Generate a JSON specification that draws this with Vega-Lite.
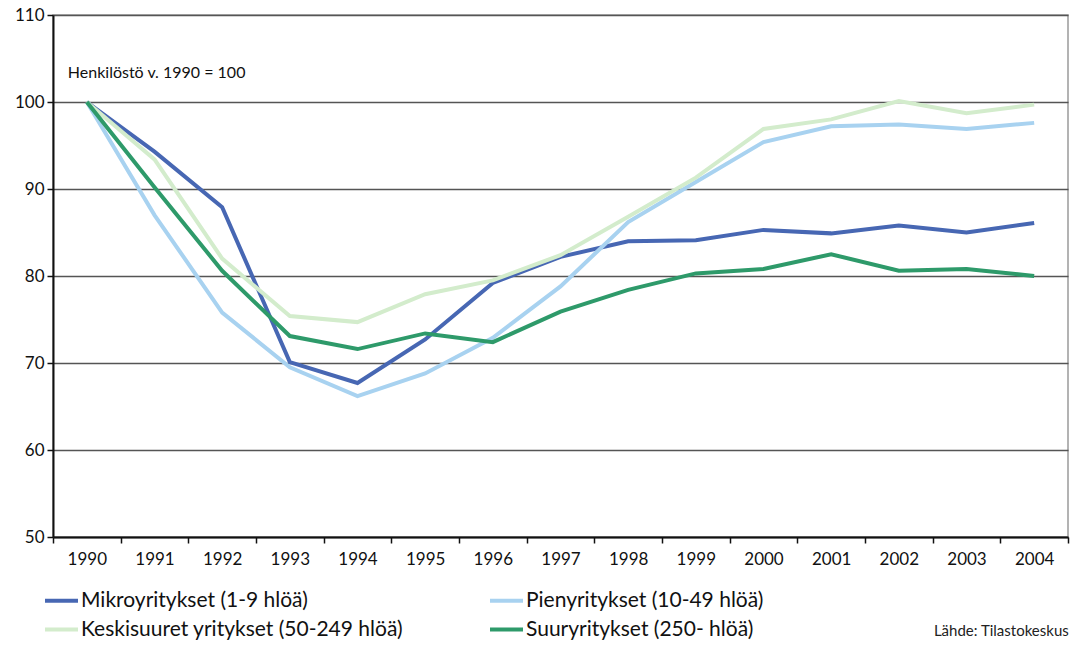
{
  "$schema": "https://vega.github.io/schema/vega-lite/v6.json",
  "autosize": "none",
  "padding": {"left": 53, "top": 15, "right": 10, "bottom": 109},
  "width": 1015,
  "height": 522,
  "background": "white",
  "config": {"font": "Lato", "view": {"stroke": "#9a9a9a", "strokeWidth": 1.5}},
  "title": {"text": "Lähde: Tilastokeskus", "orient": "bottom", "anchor": "end", "fontSize": 15, "fontWeight": "normal", "color": "#222", "offset": -16},
  "datasets": {
    "series": [
      {"year": "1990", "series": "Mikroyritykset (1-9 hlöä)", "value": 100},
      {"year": "1991", "series": "Mikroyritykset (1-9 hlöä)", "value": 94.3},
      {"year": "1992", "series": "Mikroyritykset (1-9 hlöä)", "value": 87.9},
      {"year": "1993", "series": "Mikroyritykset (1-9 hlöä)", "value": 70.1},
      {"year": "1994", "series": "Mikroyritykset (1-9 hlöä)", "value": 67.7},
      {"year": "1995", "series": "Mikroyritykset (1-9 hlöä)", "value": 72.7},
      {"year": "1996", "series": "Mikroyritykset (1-9 hlöä)", "value": 79.2},
      {"year": "1997", "series": "Mikroyritykset (1-9 hlöä)", "value": 82.2},
      {"year": "1998", "series": "Mikroyritykset (1-9 hlöä)", "value": 84.0},
      {"year": "1999", "series": "Mikroyritykset (1-9 hlöä)", "value": 84.1},
      {"year": "2000", "series": "Mikroyritykset (1-9 hlöä)", "value": 85.3},
      {"year": "2001", "series": "Mikroyritykset (1-9 hlöä)", "value": 84.9},
      {"year": "2002", "series": "Mikroyritykset (1-9 hlöä)", "value": 85.8},
      {"year": "2003", "series": "Mikroyritykset (1-9 hlöä)", "value": 85.0},
      {"year": "2004", "series": "Mikroyritykset (1-9 hlöä)", "value": 86.1},
      {"year": "1990", "series": "Pienyritykset (10-49 hlöä)", "value": 100},
      {"year": "1991", "series": "Pienyritykset (10-49 hlöä)", "value": 87.0},
      {"year": "1992", "series": "Pienyritykset (10-49 hlöä)", "value": 75.8},
      {"year": "1993", "series": "Pienyritykset (10-49 hlöä)", "value": 69.5},
      {"year": "1994", "series": "Pienyritykset (10-49 hlöä)", "value": 66.2},
      {"year": "1995", "series": "Pienyritykset (10-49 hlöä)", "value": 68.8},
      {"year": "1996", "series": "Pienyritykset (10-49 hlöä)", "value": 72.9},
      {"year": "1997", "series": "Pienyritykset (10-49 hlöä)", "value": 78.8},
      {"year": "1998", "series": "Pienyritykset (10-49 hlöä)", "value": 86.2},
      {"year": "1999", "series": "Pienyritykset (10-49 hlöä)", "value": 90.8},
      {"year": "2000", "series": "Pienyritykset (10-49 hlöä)", "value": 95.4},
      {"year": "2001", "series": "Pienyritykset (10-49 hlöä)", "value": 97.2},
      {"year": "2002", "series": "Pienyritykset (10-49 hlöä)", "value": 97.4},
      {"year": "2003", "series": "Pienyritykset (10-49 hlöä)", "value": 96.9},
      {"year": "2004", "series": "Pienyritykset (10-49 hlöä)", "value": 97.6},
      {"year": "1990", "series": "Keskisuuret yritykset (50-249 hlöä)", "value": 100},
      {"year": "1991", "series": "Keskisuuret yritykset (50-249 hlöä)", "value": 93.4},
      {"year": "1992", "series": "Keskisuuret yritykset (50-249 hlöä)", "value": 82.0},
      {"year": "1993", "series": "Keskisuuret yritykset (50-249 hlöä)", "value": 75.4},
      {"year": "1994", "series": "Keskisuuret yritykset (50-249 hlöä)", "value": 74.7},
      {"year": "1995", "series": "Keskisuuret yritykset (50-249 hlöä)", "value": 77.9},
      {"year": "1996", "series": "Keskisuuret yritykset (50-249 hlöä)", "value": 79.5},
      {"year": "1997", "series": "Keskisuuret yritykset (50-249 hlöä)", "value": 82.4},
      {"year": "1998", "series": "Keskisuuret yritykset (50-249 hlöä)", "value": 86.8},
      {"year": "1999", "series": "Keskisuuret yritykset (50-249 hlöä)", "value": 91.3},
      {"year": "2000", "series": "Keskisuuret yritykset (50-249 hlöä)", "value": 96.9},
      {"year": "2001", "series": "Keskisuuret yritykset (50-249 hlöä)", "value": 98.0},
      {"year": "2002", "series": "Keskisuuret yritykset (50-249 hlöä)", "value": 100.1},
      {"year": "2003", "series": "Keskisuuret yritykset (50-249 hlöä)", "value": 98.7},
      {"year": "2004", "series": "Keskisuuret yritykset (50-249 hlöä)", "value": 99.7},
      {"year": "1990", "series": "Suuryritykset (250- hlöä)", "value": 100},
      {"year": "1991", "series": "Suuryritykset (250- hlöä)", "value": 90.2},
      {"year": "1992", "series": "Suuryritykset (250- hlöä)", "value": 80.6},
      {"year": "1993", "series": "Suuryritykset (250- hlöä)", "value": 73.1},
      {"year": "1994", "series": "Suuryritykset (250- hlöä)", "value": 71.6},
      {"year": "1995", "series": "Suuryritykset (250- hlöä)", "value": 73.4},
      {"year": "1996", "series": "Suuryritykset (250- hlöä)", "value": 72.4},
      {"year": "1997", "series": "Suuryritykset (250- hlöä)", "value": 75.9},
      {"year": "1998", "series": "Suuryritykset (250- hlöä)", "value": 78.4},
      {"year": "1999", "series": "Suuryritykset (250- hlöä)", "value": 80.3},
      {"year": "2000", "series": "Suuryritykset (250- hlöä)", "value": 80.8},
      {"year": "2001", "series": "Suuryritykset (250- hlöä)", "value": 82.5},
      {"year": "2002", "series": "Suuryritykset (250- hlöä)", "value": 80.6},
      {"year": "2003", "series": "Suuryritykset (250- hlöä)", "value": 80.8},
      {"year": "2004", "series": "Suuryritykset (250- hlöä)", "value": 80.0}
    ],
    "note": [
      {"year": "1990", "value": 103.3, "label": "Henkilöstö v. 1990 = 100"}
    ]
  },
  "encoding": {
    "x": {
      "field": "year", "type": "ordinal",
      "scale": {"type": "band", "paddingInner": 0, "paddingOuter": 0},
      "axis": {"title": null, "labelAngle": 0, "tickBand": "extent", "grid": false, "domainColor": "#111", "domainWidth": 2, "tickColor": "#111", "tickWidth": 1.5, "tickSize": 6, "labelFontSize": 17, "labelColor": "#111", "labelPadding": 8}
    },
    "y": {
      "field": "value", "type": "quantitative",
      "scale": {"domain": [50, 110], "nice": false, "zero": false},
      "axis": {"title": null, "values": [50, 60, 70, 80, 90, 100, 110], "grid": true, "gridColor": "#555", "gridWidth": 1.5, "domainColor": "#111", "domainWidth": 2, "tickColor": "#111", "tickWidth": 1.5, "tickSize": 6, "labelFontSize": 17, "labelColor": "#111", "labelPadding": 3}
    }
  },
  "layer": [
    {
      "data": {"name": "series"},
      "mark": {"type": "line", "strokeWidth": 4, "strokeJoin": "miter"},
      "encoding": {
        "color": {
          "field": "series", "type": "nominal",
          "scale": {
            "domain": ["Mikroyritykset (1-9 hlöä)", "Pienyritykset (10-49 hlöä)", "Keskisuuret yritykset (50-249 hlöä)", "Suuryritykset (250- hlöä)"],
            "range": ["#4767b3", "#a8d2f0", "#d3eccc", "#2e9a6a"]
          },
          "legend": {
            "title": null, "orient": "none", "legendX": -10, "legendY": 567, "columns": 2, "direction": "horizontal",
            "symbolType": "stroke", "symbolStrokeWidth": 4, "symbolSize": 1089, "labelFontSize": 21, "labelColor": "#111",
            "columnPadding": 78, "rowPadding": -3, "labelOffset": 1, "labelLimit": 500
          }
        },
        "order": {"field": "series", "sort": "ascending"}
      }
    },
    {
      "data": {"name": "note"},
      "mark": {"type": "text", "align": "left", "baseline": "middle", "dx": -19, "fontSize": 16, "color": "#111"},
      "encoding": {"text": {"field": "label"}}
    }
  ]
}
